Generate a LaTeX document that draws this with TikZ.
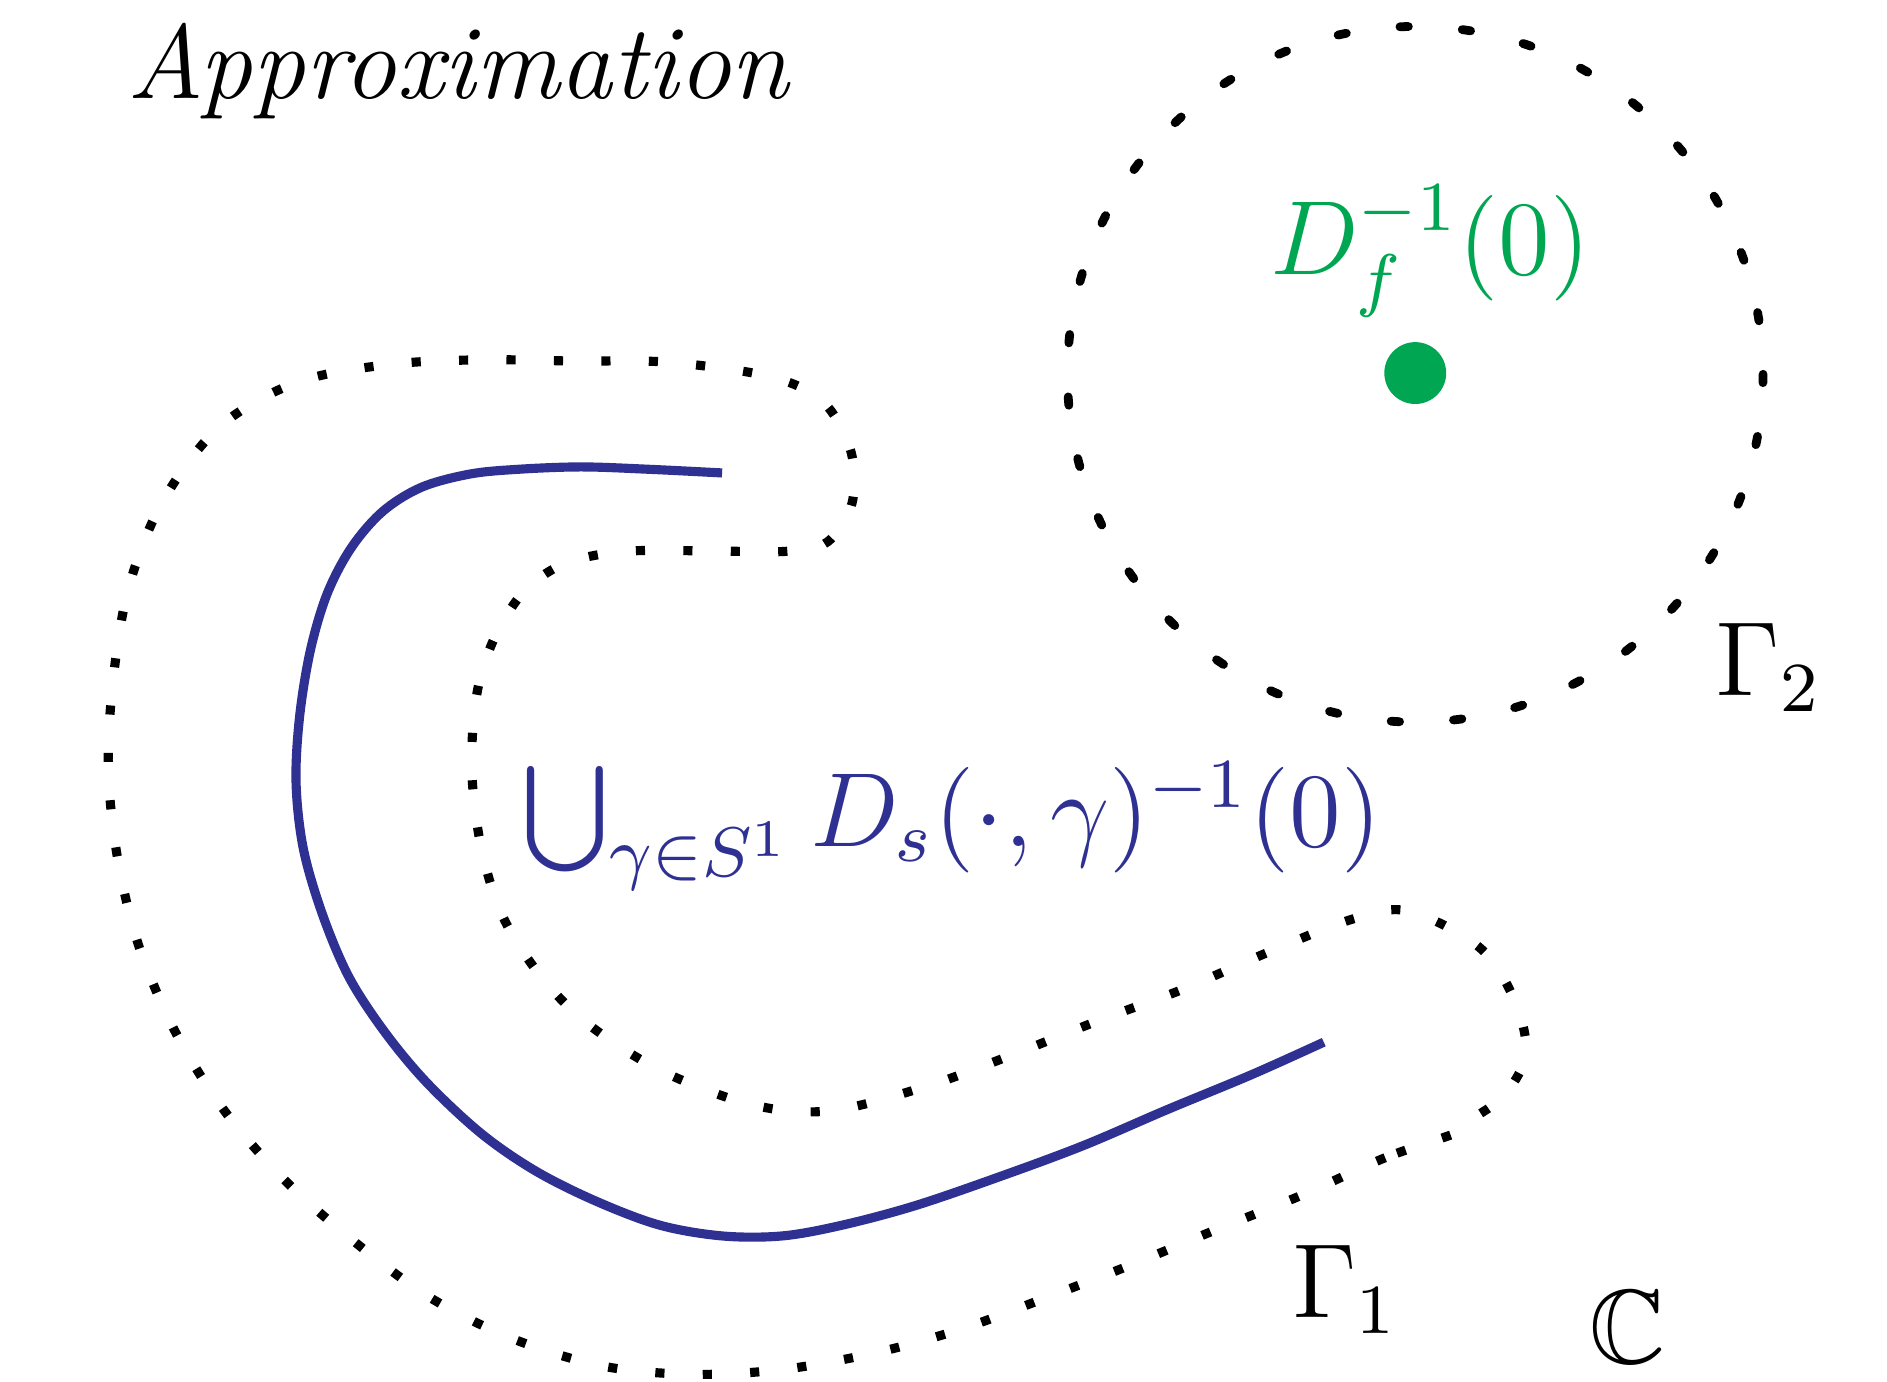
\RequirePackage{fix-cm}
\documentclass[tikz,border=0pt]{standalone}
\usepackage{amssymb}
\usepackage{graphicx}
\definecolor{dgreen}{HTML}{00A651}
\definecolor{dblue}{HTML}{2E3192}
\tikzset{
  lab/.style={inner sep=0pt, anchor=base west, font=\fontsize{12}{14}\selectfont},
  ttl/.style={inner sep=0pt, anchor=base west, font=\fontsize{30}{36}\selectfont},
  gammaone/.style={line width=2.6pt, dash pattern=on 2.6pt off 10.9pt, line cap=butt},
  gammatwo/.style={line width=2.5pt, dash pattern=on 2.4pt off 15.37pt, line cap=round},
  bluecurve/.style={dblue, line width=2.6pt, line cap=butt}
}
\begin{document}
\begin{tikzpicture}[x=0.12034mm,y=-0.12034mm]
\useasboundingbox (0,0) rectangle (1568,1148);

% Gamma_2 : dashed circle around the green point
\draw[gammatwo] (1176,311) circle[radius=289];
\node[circle, fill=dgreen, inner sep=0pt, minimum size=17.6pt] (gdot) at (1176,310) {};

% Gamma_1 : dotted closed curve
\draw[gammaone] plot[smooth cycle, tension=0.55] coordinates {
 (1211,941) (1151,962) (1082,993) (1010,1022) (940,1051) (870,1078) (800,1104)
 (728,1124) (650,1138) (575,1142) (500,1135) (425,1112) (357,1078) (296,1033)
 (239,983) (188,925) (147,860) (116,788) (98,715) (90,640) (94,565) (107,488)
 (135,417) (182,355) (246,318) (322,303) (398,299) (477,300) (555,301) (640,313)
 (684,334) (707,375) (708,418) (688,450) (655,458) (600,458) (522,458) (470,468)
 (435,492) (410,532) (396,578) (392,640) (400,705) (418,762) (450,812) (490,852)
 (550,890) (625,918) (690,923) (772,902) (845,875) (913,848) (983,822) (1052,792)
 (1123,764) (1170,757) (1229,787) (1258,830) (1268,875) (1250,910) (1220,932)
};

% blue curve
\draw[bluecurve] plot[smooth, tension=0.55] coordinates {
 (600,393) (540,390) (483,388) (430,390) (390,394) (350,405) (318,425) (292,455)
 (272,493) (258,540) (249,595) (246,650) (252,705) (268,760) (290,812) (320,858)
 (355,900) (400,942) (445,973) (495,998) (548,1018) (600,1027) (650,1027)
 (700,1018) (760,1002) (830,978) (900,952) (970,922) (1040,893) (1100,866)
};

% labels
\node[ttl] (title) at (105,82) {\textit{Approximation}};
\node[lab, text=dgreen] (glabel) at (1055,228) {\scalebox{2.5}{$D_f^{-1}(0)$}};
\node[lab, text=dblue] (blabel) at (433,703) {\scalebox{2.5}{$\bigcup_{\gamma\in S^1} D_s(\cdot,\gamma)^{-1}(0)$}};
\node[lab] (g1label) at (1073,1095) {\scalebox{2.5}{$\Gamma_1$}};
\node[lab] (g2label) at (1425,578) {\scalebox{2.5}{$\Gamma_2$}};
\node[lab] (clabel) at (1320,1133) {\scalebox{2.5}{$\mathbb{C}$}};
\end{tikzpicture}
\end{document}
